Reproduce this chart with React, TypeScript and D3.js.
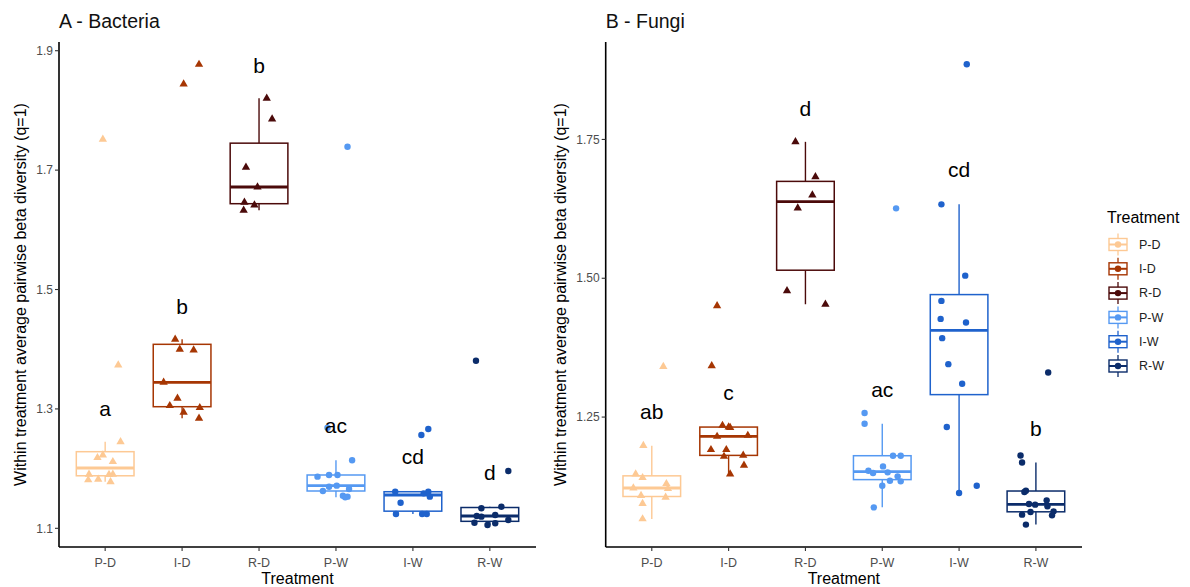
import React from "react";
import * as d3 from "d3";

const categories = ["P-D", "I-D", "R-D", "P-W", "I-W", "R-W"];
const colors = ["#FDC994", "#A63603", "#4B0A0A", "#5599F2", "#1F62CC", "#0B2C6A"];
const shapes = ["triangle", "triangle", "triangle", "circle", "circle", "circle"];

// Panel A - Bacteria
const bacteriaValues: number[][] = [
  [1.7516, 1.3735, 1.245, 1.2228, 1.2183, 1.2116, 1.1905, 1.1905, 1.19, 1.181, 1.182, 1.178],
  [1.877, 1.8442, 1.4166, 1.3998, 1.3987, 1.3446, 1.3178, 1.3054, 1.302, 1.2943, 1.2843],
  [1.8203, 1.7856, 1.7047, 1.6717, 1.646, 1.6415, 1.6327],
  [1.7392, 1.2685, 1.2139, 1.1865, 1.1893, 1.1893, 1.1715, 1.1697, 1.1625, 1.1658, 1.1546, 1.153, 1.1519],
  [1.2663, 1.2563, 1.1613, 1.1613, 1.1586, 1.153, 1.1429, 1.124, 1.124, 1.124],
  [1.3807, 1.196, 1.1362, 1.1335, 1.1206, 1.1195, 1.1223, 1.114, 1.1094, 1.1055, 1.1084],
];
const bacteriaJitter: number[][] = [
  [-0.03, 0.17, 0.2, -0.03, -0.1, 0.1, -0.21, 0.1, 0.05, -0.22, -0.09, 0.07],
  [0.22, 0.02, -0.09, -0.03, 0.15, -0.24, -0.06, -0.16, 0.23, 0.02, 0.22],
  [0.1, 0.17, -0.17, -0.02, -0.19, -0.06, -0.2],
  [0.15, -0.11, 0.21, -0.24, -0.09, 0.02, 0.01, -0.09, -0.17, 0.17, 0.09, 0.15, 0.12],
  [0.2, 0.11, -0.23, 0.2, 0.14, 0.22, -0.16, -0.22, 0.12, 0.18],
  [-0.18, 0.24, 0.15, -0.11, -0.17, -0.11, 0.07, 0.24, -0.2, -0.03, 0.07],
];
const bacteriaLetters = ["a", "b", "b", "ac", "cd", "d"];
const bacteriaLetterY = [1.2881, 1.4585, 1.8632, 1.2591, 1.2072, 1.181];
const bacteriaTicks = [1.1, 1.3, 1.5, 1.7, 1.9];
const bacteriaDomain = [1.0687, 1.9146];

// Panel B - Fungi
const fungiValues: number[][] = [
  [1.341, 1.1985, 1.1475, 1.1408, 1.13, 1.121, 1.1223, 1.1085, 1.1054, 1.0941, 1.0665],
  [1.4502, 1.3423, 1.2349, 1.232, 1.231, 1.2151, 1.2169, 1.1912, 1.1912, 1.1791, 1.181, 1.163, 1.1475],
  [1.7457, 1.6827, 1.6498, 1.6264, 1.4772, 1.4532],
  [1.6259, 1.2572, 1.238, 1.1804, 1.1804, 1.1612, 1.1534, 1.1493, 1.1504, 1.1432, 1.1354, 1.1342, 1.1264, 1.0874],
  [1.8854, 1.6331, 1.5047, 1.4592, 1.4268, 1.4202, 1.3921, 1.3453, 1.3099, 1.232, 1.1133, 1.1264],
  [1.3302, 1.1809, 1.1683, 1.1174, 1.1151, 1.0935, 1.0923, 1.1, 1.0892, 1.0743, 1.0791, 1.0802, 1.073, 1.0563],
];
const fungiJitter: number[][] = [
  [0.15, -0.11, -0.21, -0.12, 0.19, 0.21, -0.24, -0.14, 0.18, -0.12, -0.12],
  [-0.15, -0.22, -0.08, 0.0, 0.02, -0.15, 0.25, -0.23, -0.03, -0.06, 0.19, 0.2, 0.02],
  [-0.13, 0.13, 0.09, -0.1, -0.24, 0.26],
  [0.18, -0.23, -0.23, 0.14, 0.24, 0.01, -0.18, -0.12, 0.07, 0.2, 0.1, 0.24, 0.0, -0.11],
  [0.1, -0.23, 0.08, -0.23, -0.24, 0.09, -0.22, -0.14, 0.04, -0.16, 0.0, 0.23],
  [0.16, -0.2, -0.18, -0.13, -0.15, -0.09, -0.01, 0.14, 0.15, -0.18, -0.07, 0.23, 0.21, -0.13],
];
const fungiLetters = ["ab", "c", "d", "ac", "cd", "b"];
const fungiLetterY = [1.2469, 1.2811, 1.7919, 1.286, 1.6827, 1.2164];
const fungiTicks = [1.25, 1.5, 1.75];
const fungiDomain = [1.016, 1.9255];

const FONT = "'Liberation Sans', Arial, Helvetica, sans-serif";

function boxStats(vals: number[]) {
  const s = [...vals].sort(d3.ascending);
  const q1 = d3.quantile(s, 0.25)!;
  const med = d3.quantile(s, 0.5)!;
  const q3 = d3.quantile(s, 0.75)!;
  const iqr = q3 - q1;
  const hi = d3.max(s.filter((v) => v <= q3 + 1.5 * iqr))!;
  const lo = d3.min(s.filter((v) => v >= q1 - 1.5 * iqr))!;
  return { q1, med, q3, hi, lo };
}

const triPath = d3.symbol(d3.symbolTriangle, 30)()!;

type PanelProps = {
  title: string;
  values: number[][];
  jitter: number[][];
  letters: string[];
  letterY: number[];
  ticks: number[];
  fmt: (v: number) => string;
  domain: number[];
  left: number;
  right: number;
  titleX: number;
};

function Panel(p: PanelProps) {
  const top = 42;
  const bottom = 547;
  const x = d3.scaleLinear().domain([0.4, categories.length + 0.6]).range([p.left, p.right]);
  const y = d3.scaleLinear().domain(p.domain).range([bottom, top]);
  const bw = x(0.75) - x(0);
  return (
    <g>
      <text x={p.left} y={28} fontSize={19.5} fontFamily={FONT} fill="#111">
        {p.title}
      </text>
      {/* boxes */}
      {p.values.map((vals, i) => {
        const st = boxStats(vals);
        const cx = x(i + 1);
        const c = colors[i];
        return (
          <g key={"b" + i}>
            <line x1={cx} x2={cx} y1={y(st.hi)} y2={y(st.q3)} stroke={c} strokeWidth={1.4} />
            <line x1={cx} x2={cx} y1={y(st.q1)} y2={y(st.lo)} stroke={c} strokeWidth={1.4} />
            <rect x={cx - bw / 2} y={y(st.q3)} width={bw} height={y(st.q1) - y(st.q3)} fill="white" stroke={c} strokeWidth={1.5} />
            <line x1={cx - bw / 2} x2={cx + bw / 2} y1={y(st.med)} y2={y(st.med)} stroke={c} strokeWidth={2.8} />
          </g>
        );
      })}
      {/* points */}
      {p.values.map((vals, i) =>
        vals.map((v, j) => {
          const px = x(i + 1 + p.jitter[i][j]);
          const py = y(v);
          return shapes[i] === "triangle" ? (
            <path key={"p" + i + "_" + j} d={triPath} transform={`translate(${px},${py})`} fill={colors[i]} />
          ) : (
            <circle key={"p" + i + "_" + j} cx={px} cy={py} r={3.2} fill={colors[i]} />
          );
        })
      )}
      {/* letters */}
      {p.letters.map((l, i) => (
        <text key={"l" + i} x={x(i + 1)} y={y(p.letterY[i])} textAnchor="middle" fontSize={21} fontFamily={FONT} fill="#000">
          {l}
        </text>
      ))}
      {/* axes */}
      <line x1={p.left} x2={p.left} y1={top} y2={bottom} stroke="#000" strokeWidth={1.6} />
      <line x1={p.left} x2={p.right} y1={bottom} y2={bottom} stroke="#000" strokeWidth={1.6} />
      {p.ticks.map((t) => (
        <g key={"yt" + t}>
          <line x1={p.left - 4} x2={p.left} y1={y(t)} y2={y(t)} stroke="#333" strokeWidth={1.1} />
          <text x={p.left - 6} y={y(t)} dy="0.35em" textAnchor="end" fontSize={12} fontFamily={FONT} fill="#4D4D4D">
            {p.fmt(t)}
          </text>
        </g>
      ))}
      {categories.map((c, i) => (
        <g key={"xt" + c}>
          <line x1={x(i + 1)} x2={x(i + 1)} y1={bottom} y2={bottom + 4} stroke="#333" strokeWidth={1.1} />
          <text x={x(i + 1)} y={566.5} textAnchor="middle" fontSize={12.5} fontFamily={FONT} fill="#4D4D4D">
            {c}
          </text>
        </g>
      ))}
      <text x={(p.left + p.right) / 2} y={584} textAnchor="middle" fontSize={16} fontFamily={FONT} fill="#000">
        Treatment
      </text>
      <text
        transform={`translate(${p.titleX},${(top + bottom) / 2}) rotate(-90)`}
        textAnchor="middle"
        dy="0.35em"
        fontSize={16}
        fontFamily={FONT}
        fill="#000"
      >
        Within treatment average pairwise beta diversity (q=1)
      </text>
    </g>
  );
}

function Legend() {
  const lx = 1118;
  const y0 = 244.5;
  const step = 24.3;
  return (
    <g>
      <text x={1107} y={223} fontSize={16} fontFamily={FONT} fill="#000">
        Treatment
      </text>
      {categories.map((c, i) => {
        const cy = y0 + i * step;
        const col = colors[i];
        return (
          <g key={"lg" + c}>
            <line x1={lx} x2={lx} y1={cy - 11} y2={cy + 11} stroke={col} strokeWidth={1.3} />
            <rect x={lx - 9} y={cy - 6} width={18} height={12} fill="white" stroke={col} strokeWidth={1.4} />
            <line x1={lx - 9} x2={lx + 9} y1={cy} y2={cy} stroke={col} strokeWidth={2} />
            <circle cx={lx} cy={cy} r={3.2} fill={col} />
            <text x={1139} y={cy} dy="0.35em" fontSize={12.5} fontFamily={FONT} fill="#222">
              {c}
            </text>
          </g>
        );
      })}
    </g>
  );
}

export default function App() {
  const fmtA = d3.format(".1f");
  const fmtB = d3.format(".2f");
  return (
    <svg width={1190} height={587} style={{ position: "absolute", left: 0, top: 0, background: "#fff" }}>
      <rect x={0} y={0} width={1190} height={587} fill="#fff" />
      <Panel
        title="A - Bacteria"
        values={bacteriaValues}
        jitter={bacteriaJitter}
        letters={bacteriaLetters}
        letterY={bacteriaLetterY}
        ticks={bacteriaTicks}
        fmt={fmtA}
        domain={bacteriaDomain}
        left={59}
        right={536}
        titleX={20}
      />
      <Panel
        title="B - Fungi"
        values={fungiValues}
        jitter={fungiJitter}
        letters={fungiLetters}
        letterY={fungiLetterY}
        ticks={fungiTicks}
        fmt={fmtB}
        domain={fungiDomain}
        left={605.7}
        right={1082}
        titleX={560}
      />
      <Legend />
    </svg>
  );
}
